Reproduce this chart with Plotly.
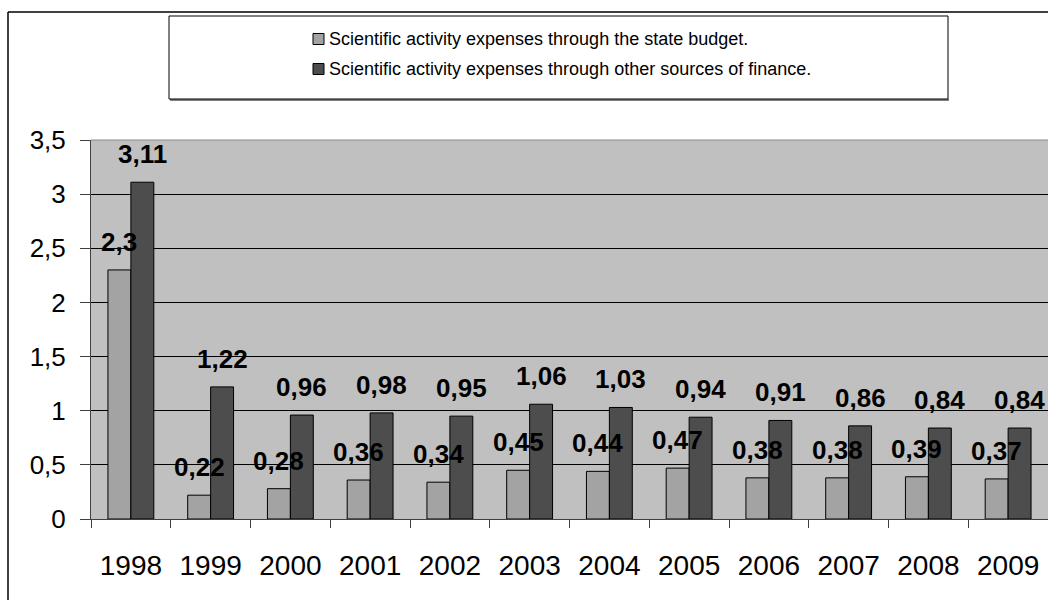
import plotly.graph_objects as go

# Expenses on scientific activity, % of GDP
years = ["1998", "1999", "2000", "2001", "2002", "2003",
         "2004", "2005", "2006", "2007", "2008", "2009"]
state_budget = [2.3, 0.22, 0.28, 0.36, 0.34, 0.45, 0.44, 0.47, 0.38, 0.38, 0.39, 0.37]
other_sources = [3.11, 1.22, 0.96, 0.98, 0.95, 1.06, 1.03, 0.94, 0.91, 0.86, 0.84, 0.84]

name_state = "Scientific activity expenses through the state budget."
name_other = "Scientific activity expenses through other sources of finance."

y_ticks = [0, 0.5, 1, 1.5, 2, 2.5, 3, 3.5]

LIGHT, DARK = "#A3A3A3", "#4D4D4D"


def comma(v):
    return f"{v:g}".replace(".", ",")


W, H = 1048, 600
L, R, T, B = 91, 0, 140, 81
PW, PH = W - L - R, H - T - B


def px_x(p):
    return (p - L) / PW


def px_y(p):
    return (H - B - p) / PH


FONT = "Liberation Sans, Arial, sans-serif"

fig = go.Figure()
fig.add_trace(go.Bar(
    x=years, y=state_budget, name=name_state,
    marker=dict(color=LIGHT, line=dict(color="#000000", width=1)),
))
fig.add_trace(go.Bar(
    x=years, y=other_sources, name=name_other,
    marker=dict(color=DARK, line=dict(color="#000000", width=1)),
))

# value labels above each bar (category index positions, shifted onto each bar)
bar_half = 11.5
annotations = []
for series, shift in ((state_budget, -bar_half), (other_sources, bar_half)):
    for i, v in enumerate(series):
        annotations.append(dict(
            x=i, y=v, xref="x", yref="y", text=f"<b>{comma(v)}</b>",
            showarrow=False, xshift=shift, yshift=11, yanchor="bottom",
            font=dict(family=FONT, size=26, color="#000000"),
        ))

# legend entries
legend_rows = [(name_state, LIGHT, 39), (name_other, DARK, 69)]
shapes = []
for label, color, cy in legend_rows:
    shapes.append(dict(
        type="rect", xref="paper", yref="paper",
        x0=px_x(313), x1=px_x(324), y0=px_y(cy + 5.5), y1=px_y(cy - 5.5),
        line=dict(color="#000000", width=1), fillcolor=color,
    ))
    annotations.append(dict(
        x=px_x(327), y=px_y(cy), xref="paper", yref="paper", text=label,
        showarrow=False, xanchor="left", yanchor="middle",
        font=dict(family=FONT, size=18, color="#000000"),
    ))

shapes += [
    # outer frame: left and top edges
    dict(type="line", xref="paper", yref="paper",
         x0=px_x(8), x1=px_x(8), y0=px_y(12), y1=px_y(H),
         line=dict(color="#000000", width=1.5)),
    dict(type="line", xref="paper", yref="paper",
         x0=px_x(8), x1=px_x(W), y0=px_y(12), y1=px_y(12),
         line=dict(color="#000000", width=1.5)),
    # legend frame with shadow
    dict(type="line", xref="paper", yref="paper",
         x0=px_x(170), x1=px_x(949), y0=px_y(100), y1=px_y(100),
         line=dict(color="#808080", width=2)),
    dict(type="rect", xref="paper", yref="paper",
         x0=px_x(169), x1=px_x(948), y0=px_y(99), y1=px_y(16),
         line=dict(color="#000000", width=1), fillcolor="rgba(0,0,0,0)"),
    # plot area top edge
    dict(type="line", xref="paper", yref="paper", x0=0, x1=1, y0=1, y1=1,
         line=dict(color="#8C8C8C", width=1)),
]

fig.update_layout(
    width=W, height=H,
    margin=dict(l=L, r=R, t=T, b=B, pad=0),
    paper_bgcolor="#FFFFFF", plot_bgcolor="#C0C0C0",
    font=dict(family=FONT, color="#000000"),
    barmode="group", bargap=0.425, bargroupgap=0,
    separators=", ",
    showlegend=False,
    annotations=annotations,
    shapes=shapes,
)

fig.update_xaxes(
    type="category", range=[-0.5, len(years) - 0.5],
    tickson="boundaries", ticks="outside", ticklen=8,
    tickcolor="#404040", showline=True, linecolor="#404040", linewidth=1,
    showgrid=False, tickfont=dict(family=FONT, size=28, color="#000000"),
    ticklabelstandoff=21,
)
fig.update_yaxes(
    range=[0, 3.5], tickvals=y_ticks, ticktext=[comma(v) for v in y_ticks],
    ticks="outside", ticklen=10, tickcolor="#404040",
    showline=True, linecolor="#404040", linewidth=1,
    showgrid=True, gridcolor="#000000", gridwidth=1, zeroline=False,
    tickfont=dict(family=FONT, size=26, color="#000000"),
    ticklabelstandoff=9,
)

fig.write_html("out.html")
